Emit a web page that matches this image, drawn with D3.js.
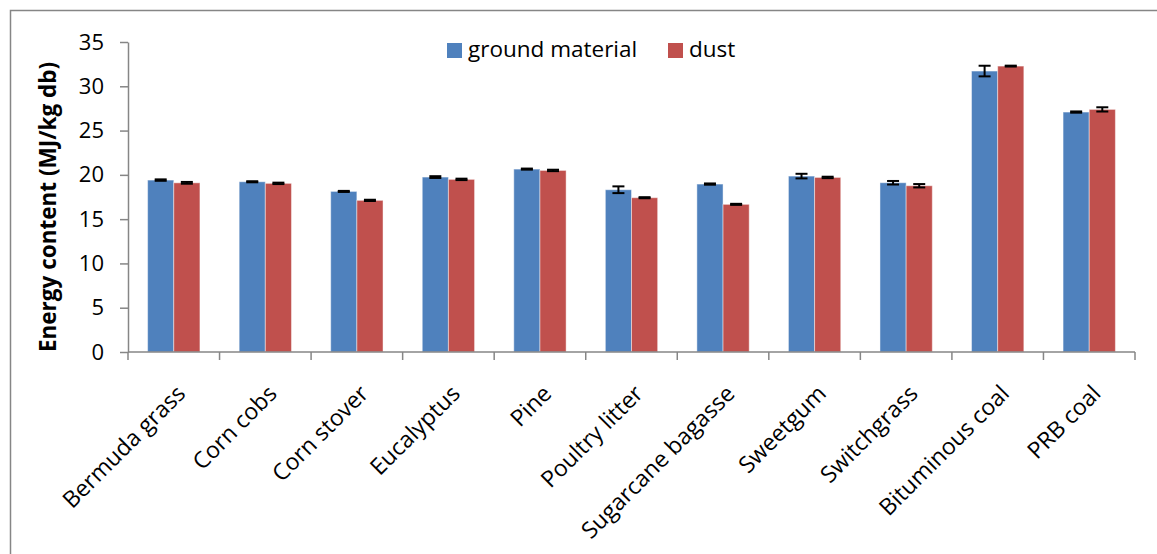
<!DOCTYPE html>
<html>
<head>
<meta charset="utf-8">
<script src="https://cdn.jsdelivr.net/npm/d3@7"></script>
<style>
  html, body { margin: 0; padding: 0; background: #fff; }
  svg { display: block; }
  text { font-family: "Open Sans", "Noto Sans", sans-serif; fill: #000; }
</style>
</head>
<body>
<svg id="chart" width="1157" height="554"></svg>
<script>
// Feedstock categories
const categories = [
  "Bermuda grass", "Corn cobs", "Corn stover", "Eucalyptus", "Pine",
  "Poultry litter", "Sugarcane bagasse", "Sweetgum", "Switchgrass",
  "Bituminous coal", "PRB coal"
];
// Series names
const seriesNames = ["ground material", "dust"];
// Energy content, MJ/kg db
const groundValues = [19.41, 19.22, 18.13, 19.75, 20.65, 18.32, 18.96, 19.86, 19.11, 31.72, 27.09];
const dustValues   = [19.10, 19.04, 17.12, 19.49, 20.50, 17.42, 16.67, 19.71, 18.77, 32.28, 27.39];
// Standard deviations for the error bars
const groundErrors = [0.08, 0.06, 0.06, 0.10, 0.06, 0.38, 0.07, 0.26, 0.20, 0.60, 0.07];
const dustErrors   = [0.10, 0.08, 0.07, 0.08, 0.08, 0.06, 0.06, 0.08, 0.19, 0.05, 0.24];
// Y axis ticks
const yTicks = [0, 5, 10, 15, 20, 25, 30, 35];

const colors = ["#4F81BD", "#C0504D"];
const axisColor = "#868686";

const svg = d3.select("#chart");

// Outer chart frame
svg.append("rect")
  .attr("x", 10.5).attr("y", 10.5)
  .attr("width", 1160).attr("height", 560)
  .attr("fill", "none")
  .attr("stroke", axisColor)
  .attr("stroke-width", 1.5);

const plot = { left: 128, right: 1135, top: 42, bottom: 352 };

const x = d3.scaleBand()
  .domain(categories)
  .range([plot.left, plot.right])
  .paddingInner(0).paddingOuter(0);

const xSeries = d3.scaleBand()
  .domain(seriesNames)
  .range([0, x.bandwidth()])
  .paddingInner(0)
  .paddingOuter(0.75);

const y = d3.scaleLinear()
  .domain([0, 35])
  .range([plot.bottom, plot.top]);

const rows = categories.map((c, i) => ({
  category: c,
  values: [
    { series: seriesNames[0], value: groundValues[i], err: groundErrors[i], color: colors[0] },
    { series: seriesNames[1], value: dustValues[i], err: dustErrors[i], color: colors[1] }
  ]
}));

// Bars
const groups = svg.append("g").selectAll("g")
  .data(rows)
  .join("g")
  .attr("transform", d => `translate(${x(d.category)},0)`);

groups.selectAll("rect")
  .data(d => d.values)
  .join("rect")
  .attr("x", d => xSeries(d.series))
  .attr("y", d => y(d.value))
  .attr("width", xSeries.bandwidth())
  .attr("height", d => y(0) - y(d.value))
  .attr("fill", d => d.color)
  .attr("stroke", "rgba(255,255,255,0.45)")
  .attr("stroke-width", 1);

// Error bars
const eb = groups.selectAll("g.err")
  .data(d => d.values)
  .join("g")
  .attr("class", "err")
  .attr("transform", d => `translate(${xSeries(d.series) + xSeries.bandwidth() / 2},0)`);

eb.append("line")
  .attr("x1", 0).attr("x2", 0)
  .attr("y1", d => y(d.value + d.err))
  .attr("y2", d => y(d.value - d.err))
  .attr("stroke", "#000").attr("stroke-width", 2);

eb.selectAll("line.cap")
  .data(d => [d.value + d.err, d.value - d.err])
  .join("line")
  .attr("class", "cap")
  .attr("x1", -6).attr("x2", 6)
  .attr("y1", v => y(v)).attr("y2", v => y(v))
  .attr("stroke", "#000").attr("stroke-width", 2);

// Y axis
const yAxis = svg.append("g")
  .attr("transform", `translate(${plot.left},0)`)
  .call(d3.axisLeft(y).tickValues(yTicks).tickSize(8).tickPadding(16).tickSizeOuter(0));
yAxis.select(".domain").attr("stroke", axisColor).attr("stroke-width", 1.5);
yAxis.selectAll(".tick line").attr("stroke", axisColor).attr("stroke-width", 1.5);
yAxis.selectAll(".tick text")
  .style("font-family", "'Open Sans', sans-serif")
  .style("font-size", "22px")
  .attr("fill", "#000");

// X axis line and category boundary ticks
svg.append("line")
  .attr("x1", plot.left).attr("x2", plot.right)
  .attr("y1", plot.bottom).attr("y2", plot.bottom)
  .attr("stroke", axisColor).attr("stroke-width", 1.5);

const boundaries = categories.map(c => x(c)).concat([x(categories[categories.length - 1]) + x.bandwidth()]);
svg.append("g").selectAll("line")
  .data(boundaries)
  .join("line")
  .attr("x1", d => d).attr("x2", d => d)
  .attr("y1", plot.bottom).attr("y2", plot.bottom + 8)
  .attr("stroke", axisColor).attr("stroke-width", 1.5);

// Rotated category labels
svg.append("g").selectAll("text")
  .data(categories)
  .join("text")
  .attr("transform", d => `translate(${x(d) + x.bandwidth() / 2 + 13},395) rotate(-45)`)
  .attr("text-anchor", "end")
  .style("font-size", "23px")
  .text(d => d);

// Y axis title
svg.append("text")
  .attr("transform", "translate(56,207) rotate(-90)")
  .attr("text-anchor", "middle")
  .style("font-size", "22.5px")
  .style("font-weight", "bold")
  .text("Energy content (MJ/kg db)");

// Legend
const legendItems = [
  { name: seriesNames[0], color: colors[0], x: 447 },
  { name: seriesNames[1], color: colors[1], x: 668 }
];
const legend = svg.append("g").selectAll("g")
  .data(legendItems)
  .join("g")
  .attr("transform", d => `translate(${d.x},43)`);
legend.append("rect")
  .attr("width", 15).attr("height", 15)
  .attr("fill", d => d.color);
legend.append("text")
  .attr("x", 21).attr("y", 13.5)
  .style("font-size", "22.5px")
  .text(d => d.name);
</script>
</body>
</html>
